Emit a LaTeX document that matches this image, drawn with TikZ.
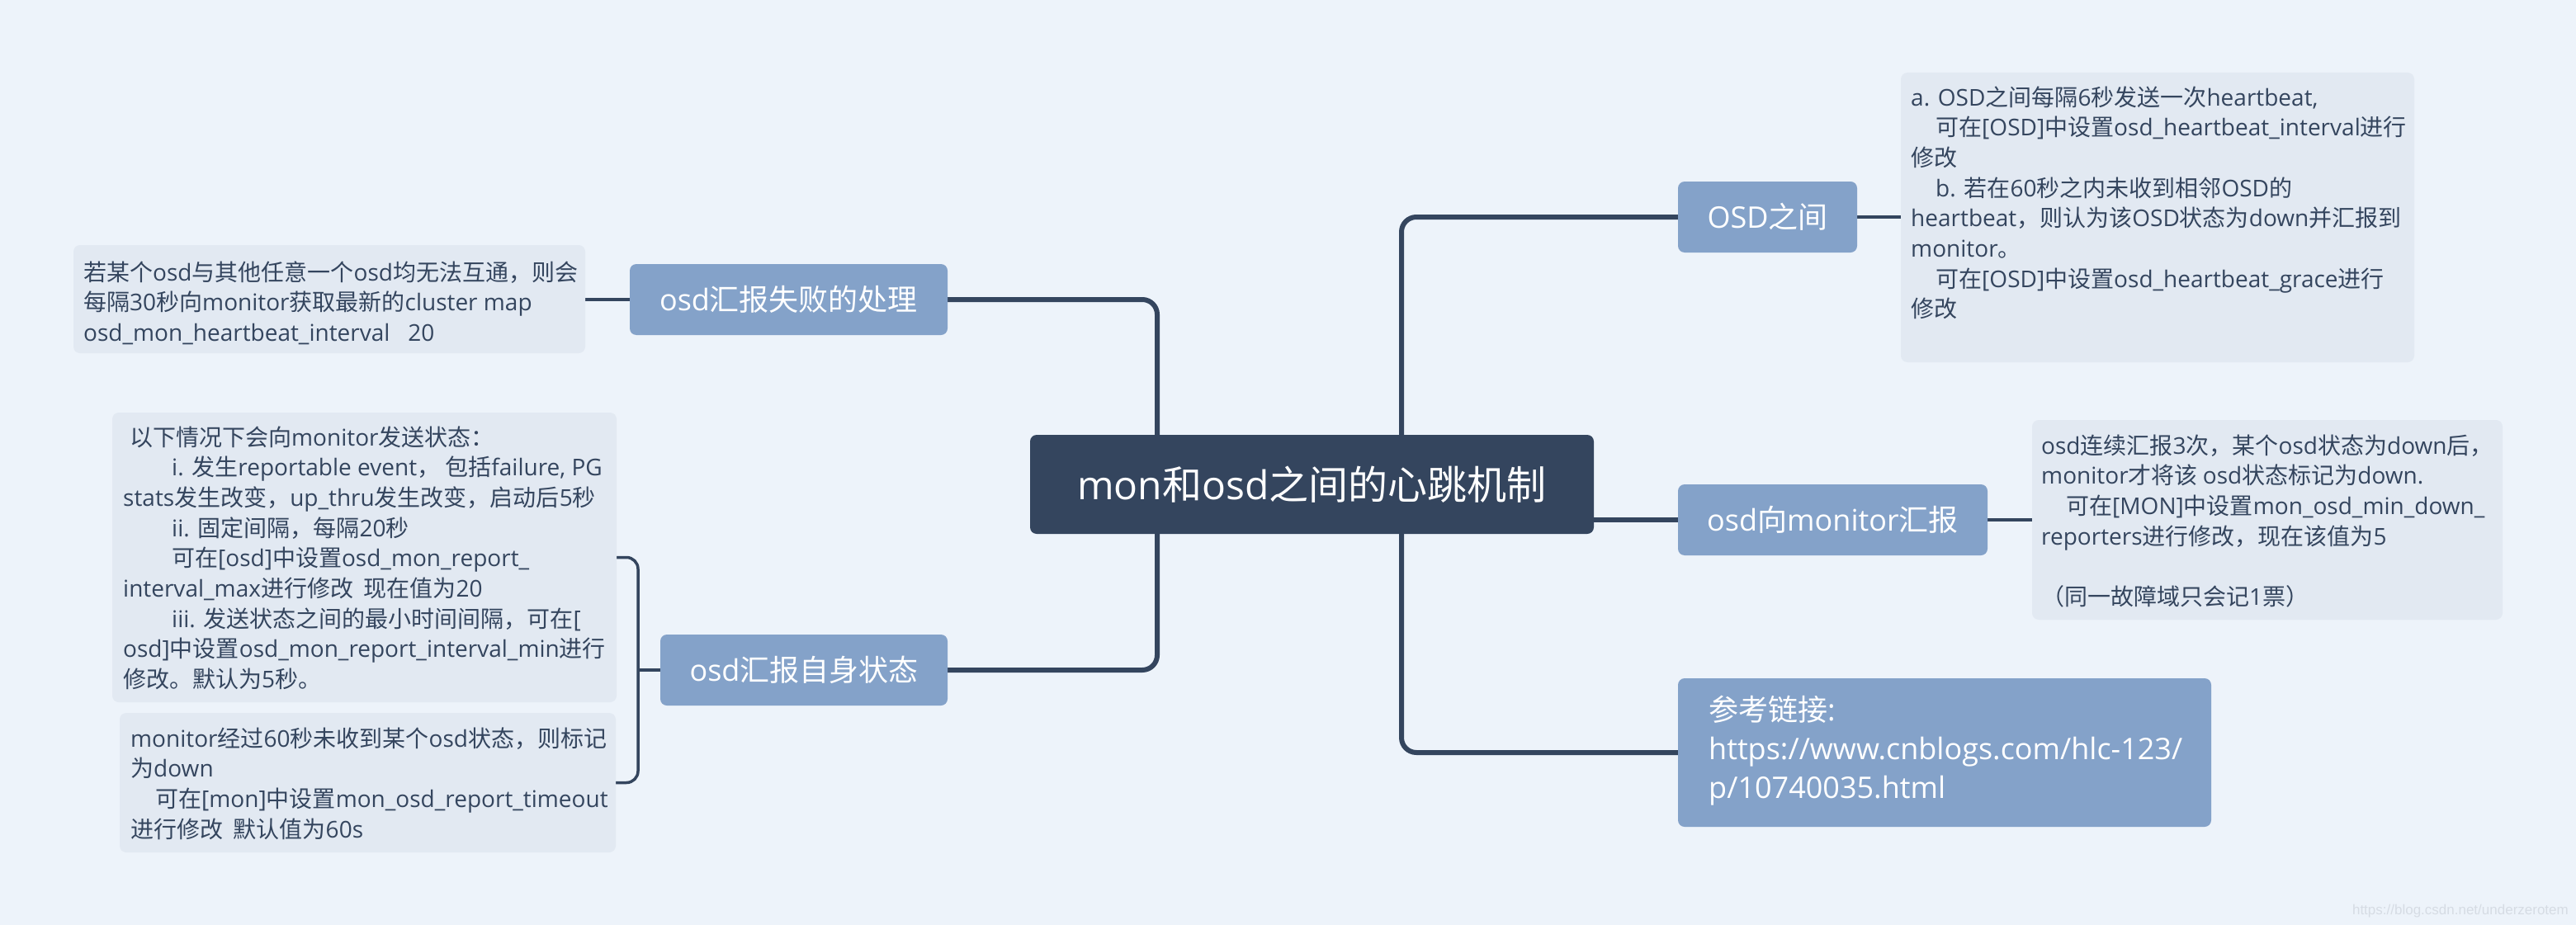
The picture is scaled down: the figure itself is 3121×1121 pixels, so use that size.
\documentclass[tikz,border=0pt]{standalone}
\usepackage{fontspec}
\setmainfont{Open Sans}
\newfontfamily\cjkf{Noto Sans CJK SC}
\newfontfamily\latf{Open Sans}
\newfontfamily\wmfont{Liberation Sans}
\usetikzlibrary{backgrounds}
\newXeTeXintercharclass\CJKcls
\newcount\cjkc
\def\setcjkrange#1#2{\cjkc=#1\relax\loop\XeTeXcharclass\cjkc=\CJKcls\relax\ifnum\cjkc<#2\relax\advance\cjkc by 1\relax\repeat}
\setcjkrange{"3000}{"303F}
\setcjkrange{"4E00}{"9FFF}
\setcjkrange{"FF00}{"FFEF}
\XeTeXinterchartoks 0 \CJKcls = {\cjkf}
\XeTeXinterchartoks 4095 \CJKcls = {\cjkf}
\XeTeXinterchartoks \CJKcls 0 = {\latf}
\XeTeXinterchartoks 4095 0 = {\latf}
\XeTeXinterchartokenstate=1
\definecolor{bgc}{RGB}{237,243,250}
\definecolor{bluec}{RGB}{132,162,201}
\definecolor{detc}{RGB}{226,233,242}
\definecolor{darkc}{RGB}{52,69,94}
\definecolor{wmc}{RGB}{214,220,228}
\tikzset{
  rootbox/.style={fill=darkc, rounded corners=8pt, inner sep=0pt, outer sep=0pt, anchor=north west, text=white, font=\fontsize{48}{58}\selectfont},
  lbl/.style={fill=bluec, rounded corners=8pt, inner sep=0pt, outer sep=0pt, anchor=north west, text=white, font=\fontsize{36}{46}\selectfont},
  detbox/.style={fill=detc, rounded corners=8pt, inner sep=0pt, outer sep=0pt, anchor=north west},
  dettext/.style={anchor=base west, inner sep=0pt, align=left, text=darkc, font=\fontsize{28}{36.7}\selectfont},
  reftext/.style={anchor=base west, inner sep=0pt, align=left, text=white, font=\fontsize{36}{47}\selectfont},
  trunk/.style={draw=darkc, line width=6pt, rounded corners=18pt},
  twig/.style={draw=darkc, line width=3.5pt, rounded corners=14pt},
}
\begin{document}
\begin{tikzpicture}[x=1pt,y=-1pt]
\useasboundingbox (0,0) rectangle (3121,1121);
% central node
\node[rootbox, minimum width=683pt, minimum height=120pt] (root) at (1248,527) {mon和osd之间的心跳机制};
% right side
\node[lbl, minimum width=217pt, minimum height=86pt] (osdb) at (2033,220) {OSD之间};
\node[detbox, minimum width=622pt, minimum height=351pt] (osddet) at (2303,88) {};
\node[dettext] (osddettxt) at ([shift={(12,296.9)}]osddet.north west) {a. OSD之间每隔6秒发送一次heartbeat,\\
\hspace*{30pt}可在[OSD]中设置osd\_heartbeat\_interval进行\\
修改\\
\hspace*{30pt}b. 若在60秒之内未收到相邻OSD的\\
heartbeat，则认为该OSD状态为down并汇报到\\
monitor。\\
\hspace*{30pt}可在[OSD]中设置osd\_heartbeat\_grace进行\\
修改};
\node[lbl, minimum width=375pt, minimum height=86pt] (mon) at (2033,587) {osd向monitor汇报};
\node[detbox, minimum width=570pt, minimum height=242pt] (mondet) at (2462,509) {};
\node[dettext] (mondettxt) at ([shift={(11,224.5)}]mondet.north west) {osd连续汇报3次，某个osd状态为down后，\\
monitor才将该 osd状态标记为down.\\
\hspace*{30pt}可在[MON]中设置mon\_osd\_min\_down\_\\
reporters进行修改，现在该值为5\\[36.7pt]
（同一故障域只会记1票）};
\node[lbl, minimum width=646pt, minimum height=180pt] (ref) at (2033,822) {};
\node[reftext] (reftxt) at ([shift={(37,145)}]ref.north west) {参考链接:\\
https://www.cnblogs.com/hlc-123/\\
p/10740035.html};
% left side
\node[lbl, minimum width=385pt, minimum height=86pt] (fail) at (763,320) {osd汇报失败的处理};
\node[detbox, minimum width=620pt, minimum height=131pt] (faildet) at (89,297) {};
\node[dettext] (faildettxt) at ([shift={(12,116.4)}]faildet.north west) {若某个osd与其他任意一个osd均无法互通，则会\\
每隔30秒向monitor获取最新的cluster map\\
osd\_mon\_heartbeat\_interval\ \ \ 20};
\node[lbl, minimum width=348pt, minimum height=86pt] (self) at (800,769) {osd汇报自身状态};
\node[detbox, minimum width=611pt, minimum height=351pt] (det1) at (136,500) {};
\node[dettext] (det1txt) at ([shift={(13,333.6)}]det1.north west) {\hspace*{8pt}以下情况下会向monitor发送状态：\\
\hspace*{59pt}i. 发生reportable event， 包括failure, PG\\
stats发生改变，up\_thru发生改变，启动后5秒\\
\hspace*{59pt}ii. 固定间隔，每隔20秒\\
\hspace*{59pt}可在[osd]中设置osd\_mon\_report\_\\
interval\_max进行修改\ \ 现在值为20\\
\hspace*{59pt}iii. 发送状态之间的最小时间间隔，可在[\\
osd]中设置osd\_mon\_report\_interval\_min进行\\
修改。默认为5秒。};
\node[detbox, minimum width=601pt, minimum height=169pt] (det2) at (145,864) {};
\node[dettext] (det2txt) at ([shift={(13,151.1)}]det2.north west) {monitor经过60秒未收到某个osd状态，则标记\\
为down\\
\hspace*{30pt}可在[mon]中设置mon\_osd\_report\_timeout\\
进行修改\ \ 默认值为60s};
% watermark
\node[anchor=base east, inner sep=0pt, text=wmc, font={\XeTeXinterchartokenstate=0 \wmfont\fontsize{17}{20}\selectfont}] (wm) at (3112,1108) {https://blog.csdn.net/underzerotem};
% connectors
\coordinate (rt) at (1698,587);
\coordinate (lt) at (1402,587);
\coordinate (br) at (773,812);
\begin{scope}[on background layer]
\fill[bgc] (0,0) rectangle (3121,1121);
\draw[trunk] (osdb.west) -| (rt) |- (ref.west);
\draw[trunk] (root.east |- mon.west) -- (mon.west);
\draw[trunk] (fail.east) -| (lt) |- (self.east);
\draw[twig] (osdb.east) -- (osdb.east -| osddet.west);
\draw[twig] (mon.east) -- (mon.east -| mondet.west);
\draw[twig] (fail.west) -- (fail.west -| faildet.east);
\draw[twig] (det1.east) -| (br) |- (det2.east);
\draw[twig] (self.west) -- (br);
\end{scope}
\end{tikzpicture}
\end{document}
